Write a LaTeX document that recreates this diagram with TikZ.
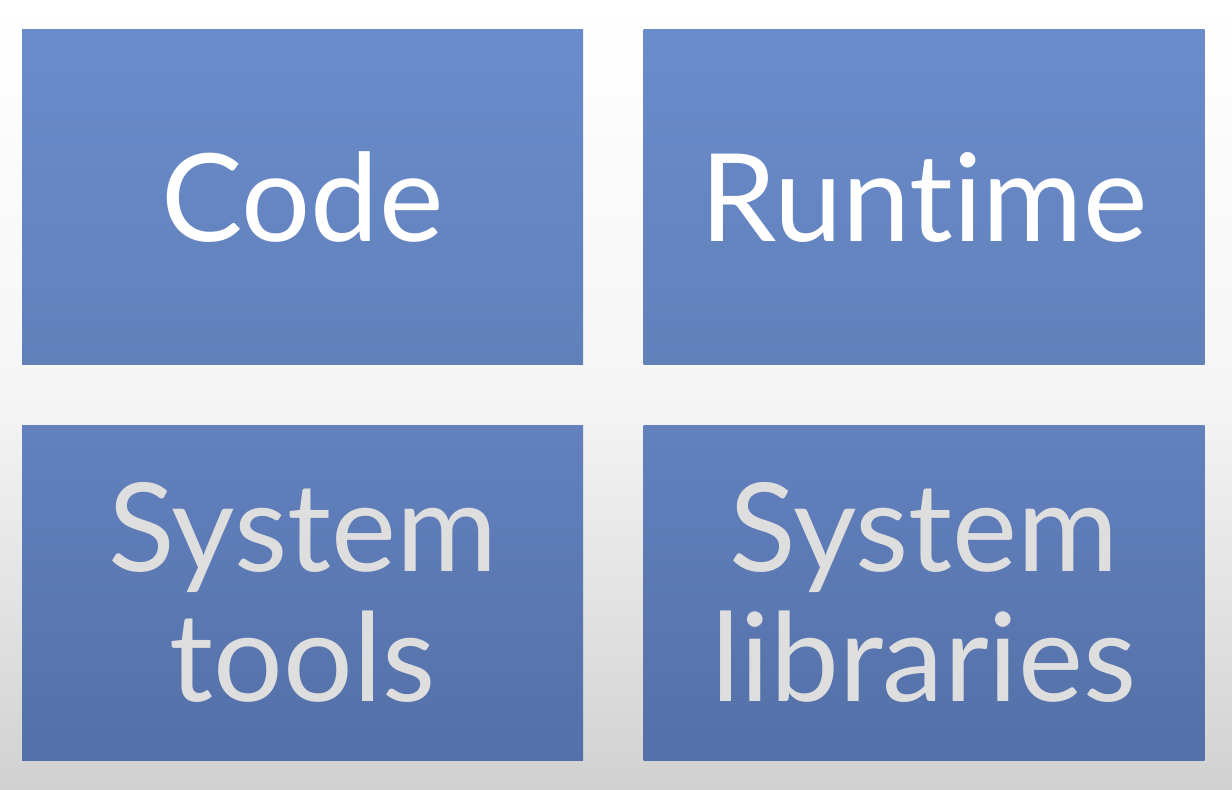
\documentclass[tikz,border=0pt]{standalone}
\usepackage{fontspec}
\setmainfont{Lato}[Ligatures=NoCommon]
\definecolor{boxtop}{HTML}{6A8CCB}
\definecolor{boxmid}{HTML}{6281BD}
\definecolor{boxlow}{HTML}{5470A8}
\definecolor{paleink}{HTML}{DEDEDE}
\tikzset{
  tile/.style={minimum width=561pt, minimum height=335pt, inner sep=0pt, align=center},
  toptile/.style={tile, top color=boxtop, bottom color=boxtop!92!black, text=white,
    font=\fontsize{122}{130}\selectfont},
  lowtile/.style={tile, top color=boxmid, bottom color=boxlow, text=paleink,
    font=\fontsize{123}{130}\selectfont}
}
\begin{document}
\begin{tikzpicture}[x=1pt, y=-1pt]
    \shade[top color=white, bottom color=black!18, middle color=black!4] (0,0) rectangle (1232,790);
    \useasboundingbox (0,0) rectangle (1232,790);
    \node[toptile] (code) at (302.5,197){Code};
    \node[toptile] (runtime) at (924,197){Runtime};
    \node[lowtile] (tools) at (302.5,592.5){System\\tools};
    \node[lowtile] (libs) at (924,592.5){System\\libraries};
\end{tikzpicture}
\end{document}
